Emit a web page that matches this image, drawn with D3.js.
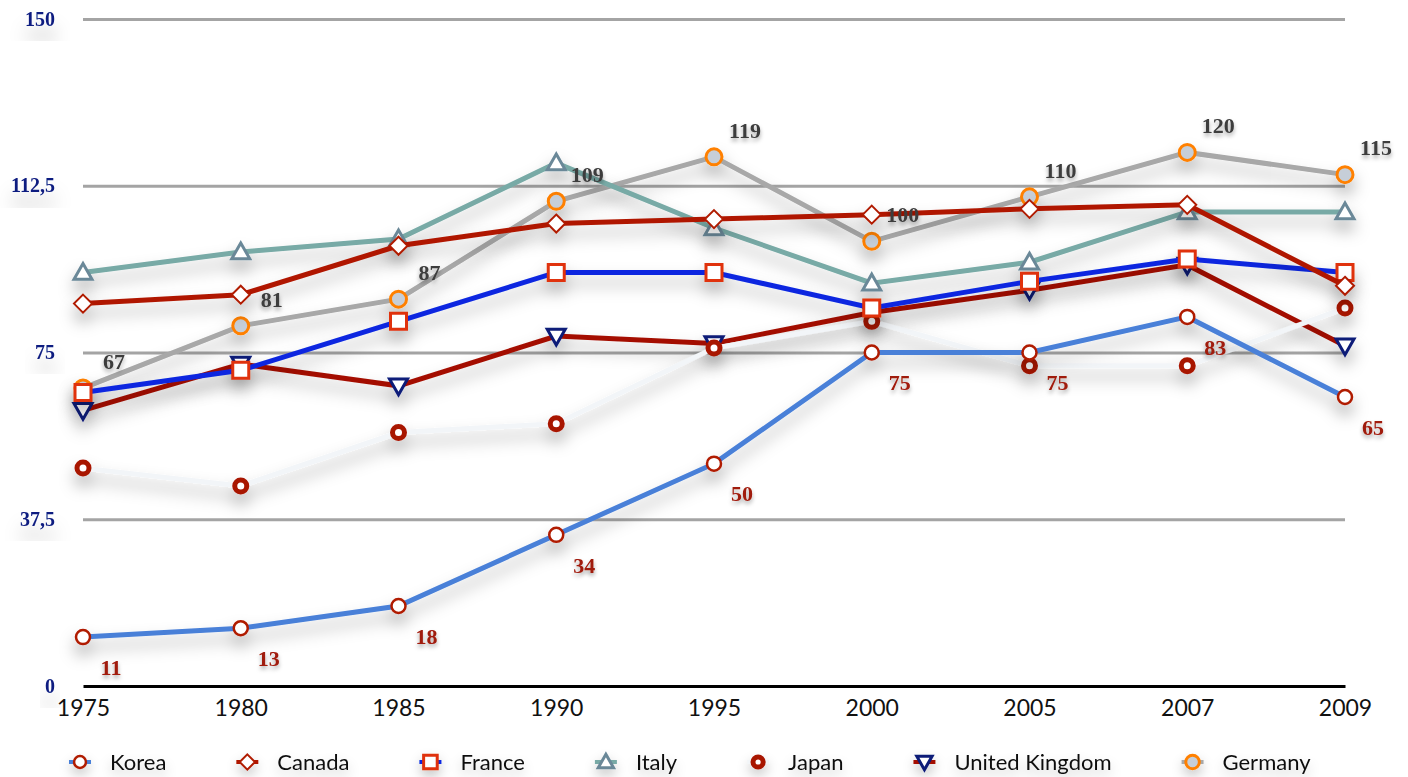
<!DOCTYPE html>
<html>
<head>
<meta charset="utf-8">
<script src="https://cdn.jsdelivr.net/npm/d3@7"></script>
<style>
  html, body { margin: 0; padding: 0; background: #ffffff; }
  svg { display: block; }
</style>
</head>
<body>
<svg id="chart" width="1408" height="777"></svg>
<script>
// Year categories along the x axis
const years = ["1975", "1980", "1985", "1990", "1995", "2000", "2005", "2007", "2009"];

// Series values, one array per country
const korea   = [11, 13, 18, 34, 50, 75, 75, 83, 65];
const canada  = [86, 88, 99, 104, 105, 106, 107.3, 108.2, 90];
const france  = [66, 71, 82, 93, 93, 85, 91, 96, 93];
const italy   = [93, 97.6, 100.5, 117.6, 103, 90.6, 95.3, 106.6, 106.6];
const japan   = [49, 45, 57, 59, 76, 82, 72, 72, 85];
const uk      = [62, 72.4, 67.5, 78.7, 77, 84, 89, 94.7, 76.5];
const germany = [67, 81, 87, 109, 119, 100, 110, 120, 115];

// Y axis ticks
const yTicks = [0, 37.5, 75, 112.5, 150];

const series = [
  { name: "Korea",          values: korea,   line: "#4a80d8", marker: "circle",  fill: "#ffffff", stroke: "#b01a00", sw: 2.5, size: 7,  labels: "below" },
  { name: "Canada",         values: canada,  line: "#b01800", marker: "diamond", fill: "#ffffff", stroke: "#b01a00", sw: 2,   size: 9 },
  { name: "France",         values: france,  line: "#0a28e0", marker: "square",  fill: "#ffffff", stroke: "#e0300c", sw: 3,   size: 8 },
  { name: "Italy",          values: italy,   line: "#78aaa6", marker: "triUp",   fill: "#ffffff", stroke: "#6a8898", sw: 3,   size: 9 },
  { name: "Japan",          values: japan,   line: "#f2f5f8", marker: "circle",  fill: "#ffffff", stroke: "#a81400", sw: 5,   size: 6 },
  { name: "United Kingdom", values: uk,      line: "#a41000", marker: "triDown", fill: "#ffffff", stroke: "#0a1a78", sw: 3,   size: 9 },
  { name: "Germany",        values: germany, line: "#a8a8a8", marker: "circle",  fill: "#c6ced8", stroke: "#ff8000", sw: 3,   size: 8,  labels: "above" }
];

const svg = d3.select("#chart");

const x = d3.scalePoint().domain(years).range([83, 1345]);
const y = d3.scaleLinear().domain([0, 150]).range([686, 19]);

// Soft drop shadows
const defs = svg.append("defs");
function shadow(id, dy, sd, op) {
  const f = defs.append("filter").attr("id", id)
    .attr("x", "-50%").attr("y", "-50%").attr("width", "200%").attr("height", "200%");
  f.append("feDropShadow").attr("dx", 0).attr("dy", dy).attr("stdDeviation", sd)
    .attr("flood-color", "#000").attr("flood-opacity", op);
}
shadow("lineShadow", 10, 8, 0.3);
shadow("textShadow", 3, 2, 0.35);
shadow("tickShadow", 16, 9, 0.3);
shadow("legendShadow", 6, 6, 0.22);

// Gridlines
const grid = svg.append("g")
  .attr("transform", `translate(${x.range()[0]},0)`)
  .call(d3.axisLeft(y).tickValues(yTicks.filter(d => d > 0)).tickSize(-(x.range()[1] - x.range()[0])).tickFormat(""));
grid.select(".domain").remove();
grid.selectAll(".tick line").attr("stroke", "#a4a4a4").attr("stroke-width", 3);

// Y tick labels
const yAxis = svg.append("g")
  .attr("transform", "translate(55,0)")
  .call(d3.axisLeft(y).tickValues(yTicks).tickSize(0).tickPadding(0)
    .tickFormat(d => String(d).replace(".", ",")));
yAxis.select(".domain").remove();
yAxis.selectAll("text")
  .attr("font-family", "'Liberation Serif', serif")
  .attr("font-weight", "bold")
  .attr("font-size", 20)
  .attr("fill", "#0c1c80")
  .attr("dy", "0.3em")
  .attr("filter", "url(#tickShadow)");

// X axis baseline and year labels
const xAxis = svg.append("g")
  .attr("transform", `translate(0,${y(0)})`)
  .call(d3.axisBottom(x).tickSize(0).tickPadding(14));
xAxis.select(".domain").attr("stroke", "#000").attr("stroke-width", 3);
xAxis.selectAll("text")
  .attr("font-family", "Lato, 'Open Sans', sans-serif")
  .attr("font-size", 23)
  .attr("fill", "#111");

// Marker shapes
function markerPath(type, s) {
  switch (type) {
    case "diamond": return `M0,${-s}L${s},0L0,${s}L${-s},0Z`;
    case "square":  return `M${-s},${-s}H${s}V${s}H${-s}Z`;
    case "triUp":   return `M0,${-s}L${s},${s * 0.75}L${-s},${s * 0.75}Z`;
    case "triDown": return `M0,${s}L${s},${-s * 0.75}L${-s},${-s * 0.75}Z`;
    default: return null;
  }
}
function drawMarker(g, s) {
  if (s.marker === "circle") {
    g.append("circle").attr("r", s.size)
      .attr("fill", s.fill).attr("stroke", s.stroke).attr("stroke-width", s.sw);
  } else {
    g.append("path").attr("d", markerPath(s.marker, s.size))
      .attr("fill", s.fill).attr("stroke", s.stroke).attr("stroke-width", s.sw)
      .attr("stroke-linejoin", "miter");
  }
}

const line = d3.line().x((d, i) => x(years[i])).y(d => y(d));

// Draw series, last legend entry underneath, first on top
const plot = svg.append("g");
series.slice().reverse().forEach(s => {
  const g = plot.append("g").attr("filter", "url(#lineShadow)");
  g.append("path").datum(s.values)
    .attr("d", line).attr("fill", "none")
    .attr("stroke", s.line).attr("stroke-width", 5)
    .attr("stroke-linejoin", "miter");
  s.values.forEach((v, i) => {
    const m = g.append("g").attr("transform", `translate(${x(years[i])},${y(v)})`);
    drawMarker(m, s);
  });
});

// Value labels
const labelLayer = svg.append("g")
  .attr("font-family", "'Liberation Serif', serif")
  .attr("font-weight", "bold")
  .attr("font-size", 22)
  .attr("text-anchor", "middle")
  .attr("filter", "url(#textShadow)");
series.filter(s => s.labels).forEach(s => {
  const below = s.labels === "below";
  s.values.forEach((v, i) => {
    labelLayer.append("text")
      .attr("x", x(years[i]) + (below ? 28 : 31))
      .attr("y", y(v) + (below ? 30 : -27))
      .attr("dy", "0.35em")
      .attr("fill", below ? "#a01a0a" : "#3c3c3c")
      .text(v);
  });
});

// Legend
const legend = svg.append("g").attr("transform", "translate(0,762)");
let lx = 80;
series.forEach(s => {
  const item = legend.append("g").attr("transform", `translate(${lx},0)`).attr("filter", "url(#legendShadow)");
  item.append("line").attr("x1", -11).attr("x2", 11)
    .attr("stroke", s.line).attr("stroke-width", 4);
  drawMarker(item, Object.assign({}, s, { size: s.size * 0.85 }));
  const t = item.append("text")
    .attr("x", 30).attr("dy", "0.35em")
    .attr("font-family", "Lato, 'Open Sans', sans-serif")
    .attr("font-size", 22)
    .attr("fill", "#111")
    .text(s.name);
  lx += 30 + t.node().getComputedTextLength() + 81;
});
</script>
</body>
</html>
